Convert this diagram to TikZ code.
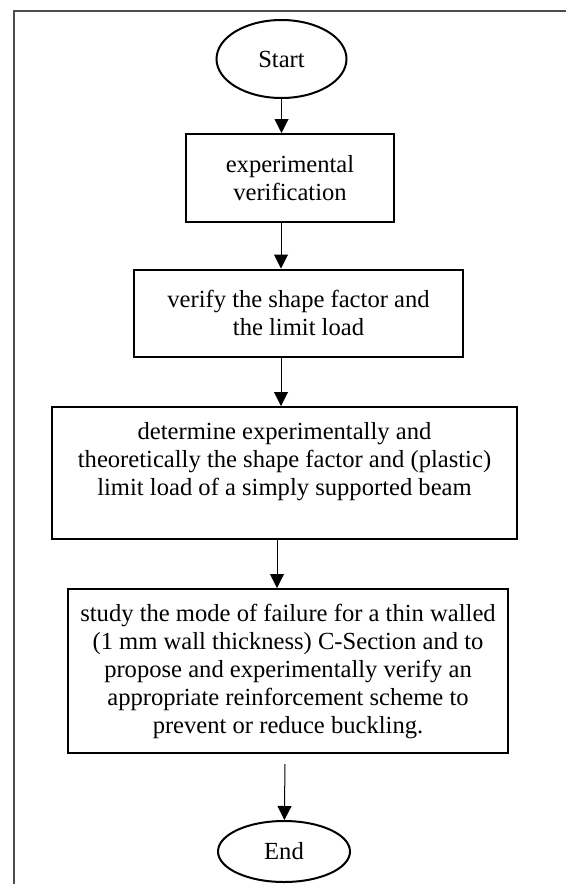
\documentclass[tikz,border=0pt]{standalone}
\usepackage{fontspec}
\setmainfont{Liberation Serif}
\usetikzlibrary{shapes.geometric,arrows.meta}

\begin{document}
\begin{tikzpicture}[x=0.5pt, y=-0.5pt, line width=1pt,
	term/.style={draw, ellipse, inner sep=0pt},
	box/.style={draw, rectangle, align=center, inner sep=0pt},
	txt/.style={font=\fontsize{12.3}{14}\selectfont},
	flow/.style={-{Triangle[length=7pt,width=7pt]}, line width=0.5pt}]

	\useasboundingbox (0,0) rectangle (566,884);
	\draw[line width=1.4pt, black!70] (14,884) -- (14,11) -- (566,11);

	\node[term, txt, minimum width=65pt, minimum height=39pt] (0) at (281.5,59) {Start};
	\node[box, txt, minimum width=104pt, minimum height=44pt] (1) at (290,178) {experimental\\verification};
	\node[box, txt, minimum width=164.5pt, minimum height=43.5pt] (2) at (298.5,313) {verify the shape factor and\\the limit load};
	\node[box, txt, minimum width=232.5pt, minimum height=66pt] (3) at (284.5,473) {determine experimentally and\\theoretically the shape factor and (plastic)\\limit load of a simply supported beam\\\mbox{}};
	\node[box, txt, minimum width=220pt, minimum height=82pt] (4) at (288,671) {study the mode of failure for a thin walled\\(1 mm wall thickness) C-Section and to\\propose and experimentally verify an\\appropriate reinforcement scheme to\\prevent or reduce buckling.};
	\node[term, txt, minimum width=66pt, minimum height=30.5pt] (5) at (284,851.5) {End};
	\coordinate (c) at (285,764);

	\draw[flow] (0) to (0.south |- 1.north);
	\draw[flow] (281,222) coordinate (a1) (a1) to (a1 |- 2.north);
	\draw[flow] (281,358) coordinate (a2) (a2) to (a2 |- 3.north);
	\draw[flow] (277,539) coordinate (a3) (a3) to (a3 |- 4.north);
	\draw[flow] (c) to (5);
\end{tikzpicture}
\end{document}
